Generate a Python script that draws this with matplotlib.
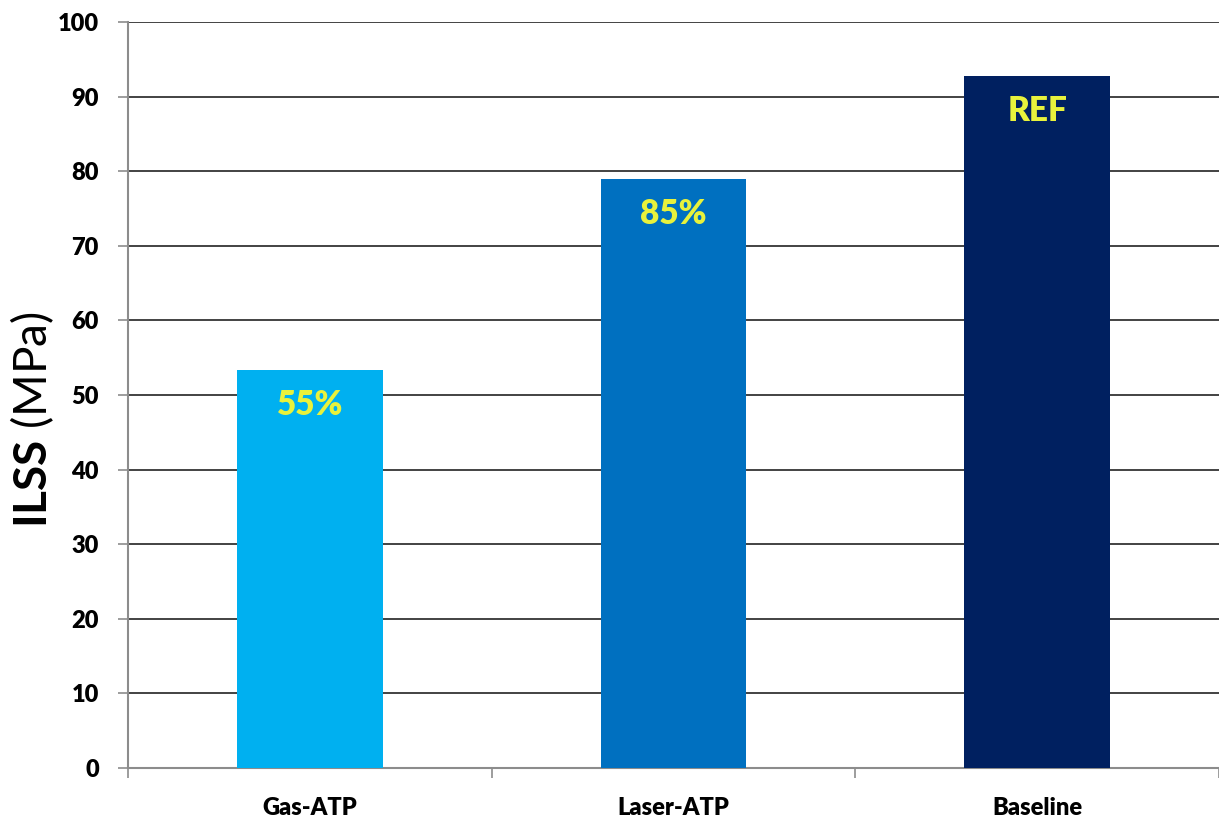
import matplotlib
matplotlib.use("Agg")
import matplotlib.pyplot as plt
from matplotlib.ticker import FixedLocator, MultipleLocator

categories = ["Gas-ATP", "Laser-ATP", "Baseline"]
ilss_values = [53.3, 78.9, 92.7]
bar_labels = ["55%", "85%", "REF"]
bar_colors = ["#00b0f0", "#0070c0", "#002060"]

LABEL_COLOR = "#e8f23c"
GRID_COLOR = "#222222"
AXIS_COLOR = "#8c8c8c"

plt.rcParams["font.family"] = ["Lato", "DejaVu Sans"]
plt.rcParams["mathtext.fontset"] = "custom"
plt.rcParams["mathtext.rm"] = "Lato"
plt.rcParams["mathtext.bf"] = "Lato:bold"

fig = plt.figure(figsize=(12.19, 8.23), dpi=100)
ax = fig.add_axes([128 / 1219, 1 - 768 / 823, 1 - 128 / 1219, (768 - 22) / 823])

x = list(range(len(categories)))
bars = ax.bar(x, ilss_values, width=0.4, color=bar_colors, zorder=3)

# value labels sit just under the top edge of each bar
for rect, text in zip(bars, bar_labels):
    ax.annotate(
        text,
        xy=(rect.get_x() + rect.get_width() / 2, rect.get_height()),
        xytext=(0, -25),
        textcoords="offset points",
        ha="center",
        va="center",
        fontsize=24,
        fontweight="heavy",
        color=LABEL_COLOR,
        zorder=4,
    )

ax.set_xlim(-0.5, 2.5)
ax.set_ylim(0, 100)
ax.yaxis.set_major_locator(MultipleLocator(10))
ax.grid(axis="y", color=GRID_COLOR, linewidth=1.2, zorder=0)
ax.set_axisbelow(True)

ax.set_xticks(x)
ax.set_xticklabels(categories, fontsize=17, fontweight="heavy")
ax.xaxis.set_minor_locator(FixedLocator([-0.5, 0.5, 1.5, 2.5]))
ax.tick_params(axis="x", which="major", length=0, pad=21)
ax.tick_params(axis="x", which="minor", length=7, color=AXIS_COLOR, width=1.2)
ax.tick_params(axis="y", length=7, color=AXIS_COLOR, width=1.2, pad=14, labelsize=17)
for lbl in ax.get_yticklabels():
    lbl.set_fontweight("heavy")

for side in ["top", "right"]:
    ax.spines[side].set_visible(False)
for side in ["left", "bottom"]:
    ax.spines[side].set_color(AXIS_COLOR)
    ax.spines[side].set_linewidth(1.5)

fig.text(
    32 / 1219,
    1 - 420 / 823,
    r"$\mathbf{ILSS}$ (MPa)",
    rotation=90,
    ha="center",
    va="center",
    fontsize=33,
)

fig.savefig("out.png", dpi=100, facecolor="white")
